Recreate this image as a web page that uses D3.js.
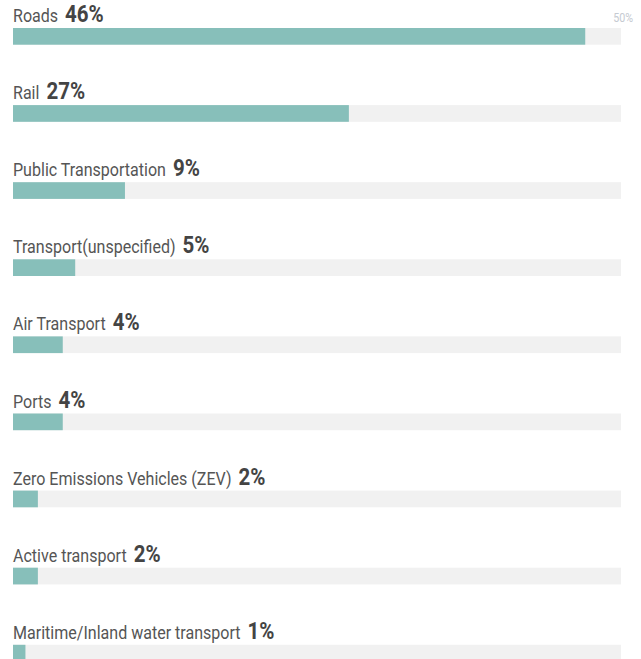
<!DOCTYPE html>
<html>
<head>
<meta charset="utf-8">
<script src="https://cdn.jsdelivr.net/npm/d3@7"></script>
<style>
  html, body { margin: 0; padding: 0; background: #fff; }
  svg { display: block; }
</style>
</head>
<body>
<svg id="chart" width="641" height="659"></svg>
<script>
const categories = ["Roads", "Rail", "Public Transportation", "Transport(unspecified)", "Air Transport", "Ports", "Zero Emissions Vehicles (ZEV)", "Active transport", "Maritime/Inland water transport"];
const values = [46, 27, 9, 5, 4, 4, 2, 2, 1];
const maxLabel = "50%";
const domainMax = 50;

const data = categories.map((c, i) => ({ name: c, value: values[i] }));

const svg = d3.select("#chart");
const fontName = "Roboto, 'DejaVu Sans', sans-serif";

const left = 13, trackRight = 621;
const x = d3.scaleLinear().domain([0, domainMax]).range([left, 635]);
const step = 77.1;
const barH = 16.7;
const y = d3.scaleBand().domain(categories).range([28, 28 + step * categories.length]);
const yTop = (d) => y(d.name);

// measure to emulate a condensed face
const probe = svg.append("text").attr("font-family", fontName).attr("font-size", 18).text("Public Transportation");
const sx = 153 / probe.node().getComputedTextLength();
probe.remove();

svg.append("text")
  .attr("transform", `translate(633,22) scale(${sx},1)`)
  .attr("text-anchor", "end")
  .attr("font-family", fontName)
  .attr("font-size", 12)
  .attr("fill", "#c5cad1")
  .text(maxLabel);

const g = svg.selectAll("g.row").data(data).join("g").attr("class", "row");

g.append("rect")
  .attr("x", left)
  .attr("y", d => yTop(d))
  .attr("width", trackRight - left)
  .attr("height", barH)
  .attr("fill", "#f1f1f1");

g.append("rect")
  .attr("x", left)
  .attr("y", d => yTop(d))
  .attr("width", d => x(d.value) - x(0))
  .attr("height", barH)
  .attr("fill", "#87bfba");

g.append("text")
  .attr("class", "name")
  .attr("transform", d => `translate(${left},${yTop(d) - 6}) scale(${sx},1)`)
  .attr("font-family", fontName)
  .attr("font-size", 18)
  .attr("fill", "#555")
  .text(d => d.name);

g.each(function(d) {
  const t = d3.select(this).select("text.name").node();
  const w = t.getComputedTextLength() * sx;
  d3.select(this).append("text")
    .attr("transform", `translate(${left + w + 7},${yTop(d) - 6}) scale(${sx},1)`)
    .attr("font-family", fontName)
    .attr("font-size", 23)
    .attr("font-weight", "bold")
    .attr("fill", "#444")
    .text(d.value + "%");
});
</script>
</body>
</html>
